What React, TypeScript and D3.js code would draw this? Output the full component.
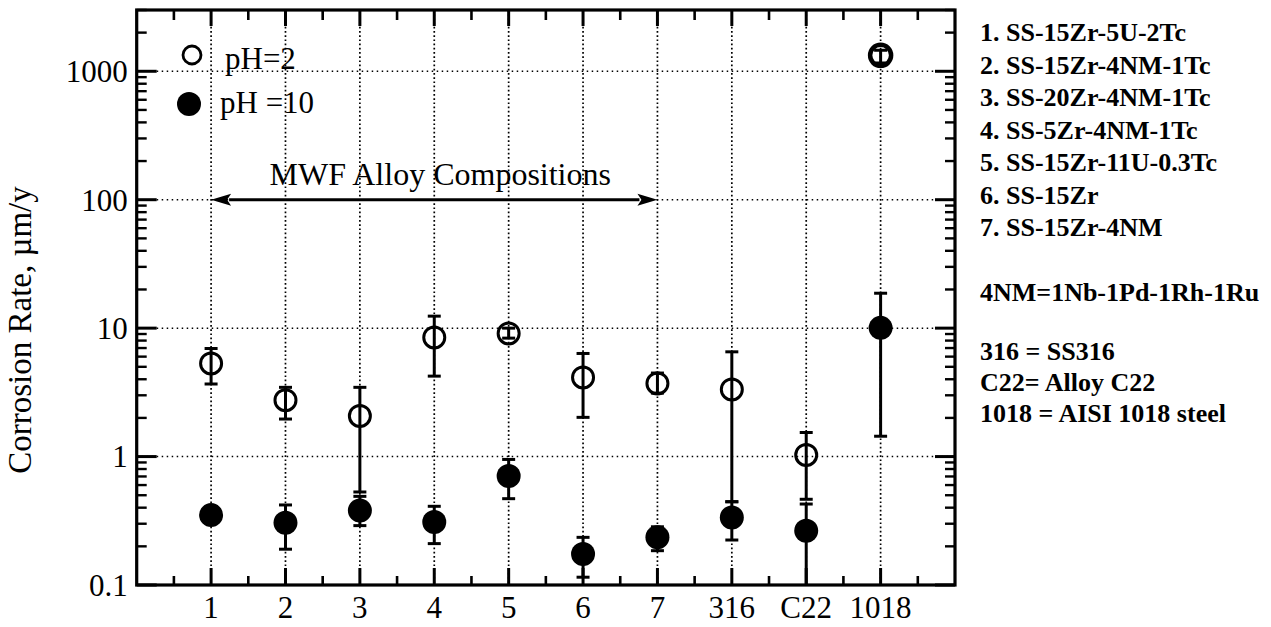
import React from "react";
import * as d3 from "d3";

const categories = ["1", "2", "3", "4", "5", "6", "7", "316", "C22", "1018"];
const ph2Values = [5.31, 2.75, 2.07, 8.47, 9.1, 4.13, 3.71, 3.33, 1.03, 1330];
const ph2Low = [3.67, 1.96, 0.53, 4.23, 8.36, 2.02, 3.12, 0.445, 0.465, 1160];
const ph2High = [6.95, 3.46, 3.46, 12.4, 10.0, 6.35, 4.47, 6.54, 1.54, 1457];
const ph10Values = [0.35, 0.305, 0.38, 0.31, 0.705, 0.174, 0.235, 0.336, 0.265, 10.05];
const ph10Low = [0.33, 0.19, 0.29, 0.21, 0.47, 0.115, 0.185, 0.224, 0.08, 1.44];
const ph10High = [0.37, 0.42, 0.49, 0.41, 0.95, 0.235, 0.284, 0.445, 0.427, 18.7];
const yTickLabels = ["0.1", "1", "10", "100", "1000"];
const yTickValues = [0.1, 1, 10, 100, 1000];
const legendLabels = ["pH=2", "pH =10"];
const annotation = "MWF Alloy Compositions";
const arrowFrom = 1;
const arrowTo = 7;
const arrowAt = 100;
const yAxisTitle = "Corrosion Rate, \u00b5m/y";
const notesAlloys = [
  "1. SS-15Zr-5U-2Tc",
  "2. SS-15Zr-4NM-1Tc",
  "3. SS-20Zr-4NM-1Tc",
  "4. SS-5Zr-4NM-1Tc",
  "5. SS-15Zr-11U-0.3Tc",
  "6. SS-15Zr",
  "7. SS-15Zr-4NM",
];
const noteNM = "4NM=1Nb-1Pd-1Rh-1Ru";
const notesRefs = ["316 = SS316", "C22= Alloy C22", "1018 = AISI 1018 steel"];

const W = 1271;
const H = 627;
const L = 136.7;
const R = 955;
const T = 10;
const B = 585;
const FONT = "Liberation Serif, DejaVu Serif, Times New Roman, serif";

export default function App() {
  const x = d3.scaleLinear().domain([0, 11]).range([L, R]);
  const y = d3.scaleLog().domain([0.1, 3000]).range([B, T]);

  const majorX = d3.range(1, 11);
  const minorX = d3.range(0.5, 11, 1);
  const minorY: number[] = [];
  [0.1, 1, 10, 100, 1000].forEach((dec) => {
    for (let k = 2; k <= 9; k++) {
      const v = dec * k;
      if (v <= 3000) minorY.push(v);
    }
  });

  const capW = 6.5;
  const errStroke = 3;

  const errBar = (i: number, lo: number, hi: number, key: string) => {
    const cx = x(i + 1);
    return (
      <g key={key} stroke="#000" strokeWidth={errStroke}>
        <line x1={cx} x2={cx} y1={y(lo)} y2={y(hi)} />
        <line x1={cx - capW} x2={cx + capW} y1={y(lo)} y2={y(lo)} />
        <line x1={cx - capW} x2={cx + capW} y1={y(hi)} y2={y(hi)} />
      </g>
    );
  };

  const ax1 = x(arrowFrom);
  const ax2 = x(arrowTo);
  const ay = y(arrowAt);
  const headL = 20;
  const headH = 6;
  const tStyle = { fontFamily: FONT };

  return (
    <svg
      width={W}
      height={H}
      viewBox={`0 0 ${W} ${H}`}
      style={{ position: "absolute", left: 0, top: 0, background: "#fff", fontFamily: FONT }}
    >
      <defs>
        <clipPath id="plotClip">
          <rect x={L} y={T} width={R - L} height={B - T} />
        </clipPath>
      </defs>
      <rect x={0} y={0} width={W} height={H} fill="#fff" />

      {/* gridlines */}
      <g stroke="#000" fill="none">
        {majorX.map((v) => (
          <line
            key={"gx" + v}
            x1={x(v)}
            x2={x(v)}
            y1={T}
            y2={B}
            strokeWidth={1.7}
            strokeDasharray="1.7 2.5"
          />
        ))}
        {[1, 10, 100, 1000].map((v) => (
          <line
            key={"gy" + v}
            x1={L}
            x2={R}
            y1={y(v)}
            y2={y(v)}
            strokeWidth={1.5}
            strokeDasharray="1.5 3.5"
          />
        ))}
      </g>

      {/* annotation arrow */}
      <g>
        <line x1={ax1 + headL - 2} x2={ax2 - headL + 2} y1={ay} y2={ay} stroke="#000" strokeWidth={3} />
        <path
          d={`M${ax1},${ay} L${ax1 + headL},${ay - headH} L${ax1 + headL - 4},${ay} L${ax1 + headL},${ay + headH} Z`}
          fill="#000"
        />
        <path
          d={`M${ax2},${ay} L${ax2 - headL},${ay - headH} L${ax2 - headL + 4},${ay} L${ax2 - headL},${ay + headH} Z`}
          fill="#000"
        />
        <text x={(ax1 + ax2) / 2 + 6} y={185} fontSize={32} textAnchor="middle" style={tStyle}>
          {annotation}
        </text>
      </g>

      {/* error bars */}
      <g clipPath="url(#plotClip)">
        {categories.map((c, i) => errBar(i, ph2Low[i], ph2High[i], "e2" + c))}
        {categories.map((c, i) => errBar(i, ph10Low[i], ph10High[i], "e10" + c))}
      </g>

      {/* markers */}
      <g>
        {categories.map((c, i) => (
          <circle
            key={"m2" + c}
            cx={x(i + 1)}
            cy={y(ph2Values[i])}
            r={10.5}
            fill="none"
            stroke="#000"
            strokeWidth={i === 9 ? 4.5 : 3}
          />
        ))}
        {categories.map((c, i) => (
          <circle key={"m10" + c} cx={x(i + 1)} cy={y(ph10Values[i])} r={12} fill="#000" />
        ))}
      </g>

      {/* frame */}
      <rect x={L} y={T} width={R - L} height={B - T} fill="none" stroke="#000" strokeWidth={3.2} />

      {/* ticks */}
      <g stroke="#000">
        {majorX.map((v) => (
          <g key={"tx" + v} strokeWidth={3}>
            <line x1={x(v)} x2={x(v)} y1={B} y2={B - 17} />
            <line x1={x(v)} x2={x(v)} y1={T} y2={T + 16} />
          </g>
        ))}
        {minorX.map((v) => (
          <g key={"mx" + v} strokeWidth={2.6}>
            <line x1={x(v)} x2={x(v)} y1={B} y2={B - 9} />
            <line x1={x(v)} x2={x(v)} y1={T} y2={T + 10} />
          </g>
        ))}
        {yTickValues.map((v) => (
          <g key={"ty" + v} strokeWidth={3}>
            <line x1={L} x2={L + 20} y1={y(v)} y2={y(v)} />
            <line x1={R} x2={R - 20} y1={y(v)} y2={y(v)} />
          </g>
        ))}
        {minorY.map((v) => (
          <g key={"my" + v} strokeWidth={2.4}>
            <line x1={L} x2={L + 10} y1={y(v)} y2={y(v)} />
            <line x1={R} x2={R - 10} y1={y(v)} y2={y(v)} />
          </g>
        ))}
      </g>

      {/* tick labels */}
      <g fontSize={31} fill="#000">
        {yTickValues.map((v, i) => (
          <text key={"yl" + v} x={L - 9} y={y(v)} dy="0.35em" textAnchor="end" style={tStyle}>
            {yTickLabels[i]}
          </text>
        ))}
        {categories.map((c, i) => (
          <text key={"xl" + c} x={x(i + 1)} y={618} textAnchor="middle" style={tStyle}>
            {c}
          </text>
        ))}
      </g>

      {/* y axis title */}
      <text
        transform={`translate(31, 330) rotate(-90)`}
        textAnchor="middle"
        fontSize={33}
        style={tStyle}
      >
        {yAxisTitle}
      </text>

      {/* legend */}
      <g>
        <circle cx={192} cy={55} r={9} fill="none" stroke="#000" strokeWidth={2.8} />
        <text x={225} y={69} fontSize={31} style={tStyle}>
          {legendLabels[0]}
        </text>
        <circle cx={189} cy={104} r={12} fill="#000" />
        <text x={220} y={113} fontSize={31} style={tStyle}>
          {legendLabels[1]}
        </text>
      </g>

      {/* notes */}
      <g fontSize={26} fontWeight="bold">
        {notesAlloys.map((s, i) => (
          <text key={"na" + i} x={980} y={41 + 32.5 * i} style={tStyle}>
            {s}
          </text>
        ))}
        <text x={980} y={301} style={tStyle}>
          {noteNM}
        </text>
        {notesRefs.map((s, i) => (
          <text key={"nr" + i} x={980} y={360 + 31 * i} style={tStyle}>
            {s}
          </text>
        ))}
      </g>
    </svg>
  );
}
